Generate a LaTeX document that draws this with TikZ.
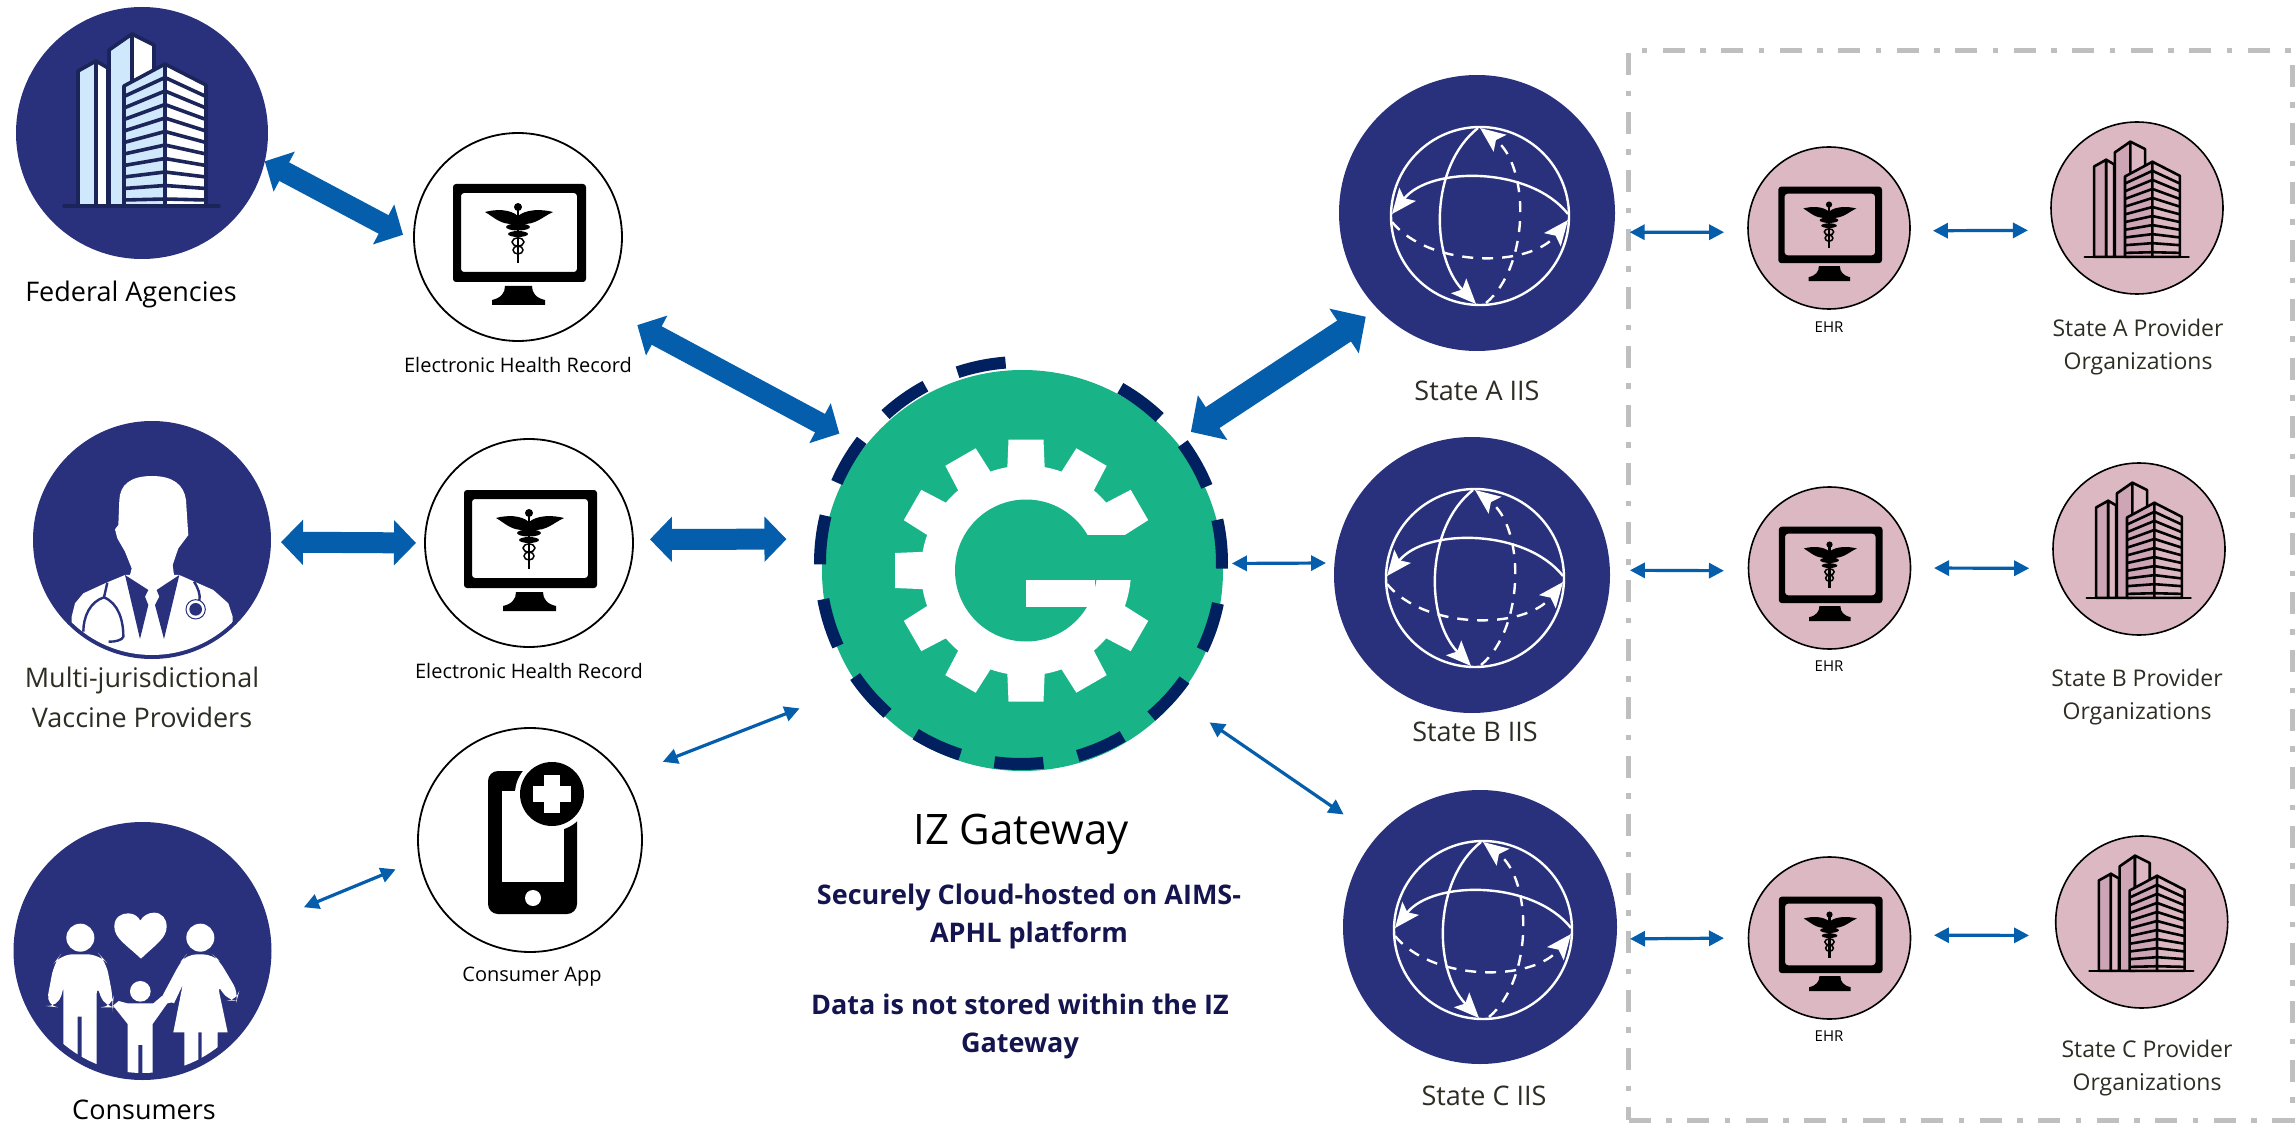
\documentclass[tikz,border=0pt]{standalone}
\usepackage{fontspec}
\setmainfont{Open Sans}
\usetikzlibrary{arrows.meta,calc,positioning}

\definecolor{navy}{HTML}{29317D}
\definecolor{gwgreen}{HTML}{19B388}
\definecolor{gwring}{HTML}{00205F}
\definecolor{flow}{HTML}{045EAB}
\definecolor{rose}{HTML}{DCB8C3}
\definecolor{rosedark}{HTML}{CDA5B4}
\definecolor{towerblue}{HTML}{CFE8FB}
\definecolor{towerline}{HTML}{1B2559}
\definecolor{boxgrey}{HTML}{BFBFBF}
\definecolor{textnavy}{HTML}{14144F}
\definecolor{textdark}{HTML}{2E2D24}

\tikzset{
  navydisc/.style={circle,fill=navy,inner sep=0pt,outer sep=0pt,minimum size=#1},
  whitedisc/.style={circle,draw=black,line width=1.8pt,fill=white,inner sep=0pt,outer sep=0pt,minimum size=#1},
  rosedisc/.style={circle,draw=black,line width=1.6pt,fill=rose,inner sep=0pt,outer sep=0pt,minimum size=#1},
  biglabel/.style={font=\fontsize{27}{40}\selectfont,align=center},
  midlabel/.style={font=\fontsize{27}{32}\selectfont,text=textdark,align=center},
  provlabel/.style={font=\fontsize{23}{33}\selectfont,text=textdark,align=center},
  smalllabel/.style={font=\fontsize{20}{24}\selectfont,align=center},
  tinylabel/.style={font=\fontsize{15}{18}\selectfont,align=center},
  hugelabel/.style={font=\fontsize{42}{48}\selectfont,align=center},
  noticelabel/.style={font=\fontsize{27}{38}\selectfont\bfseries,text=textnavy,align=center},
  fatflow/.style={{Triangle[length=22pt,width=44pt]}-{Triangle[length=22pt,width=44pt]},line width=21pt,flow},
  fatterflow/.style={{Triangle[length=26pt,width=52pt]}-{Triangle[length=26pt,width=52pt]},line width=25pt,flow},
  thinflow/.style={{Triangle[length=15pt,width=15pt]}-{Triangle[length=15pt,width=15pt]},line width=3.2pt,flow},
  pics/monitor/.style={code={
    \fill[even odd rule,rounded corners=3pt,black] (-65,-53) rectangle (68,45) (-57,-44) rectangle (59,35);
    \fill[black] (-13,49) -- (14,49) .. controls (14,56) and (18,61) .. (27,63) -- (27,68) -- (-26,68) -- (-26,63) .. controls (-17,61) and (-13,56) .. (-13,49) -- cycle;
    \fill[black] (0,-21) .. controls (-8,-28) and (-22,-28) .. (-33,-25) .. controls (-24,-20) and (-18,-12) .. (-3,-13) -- (3,-13) .. controls (18,-12) and (24,-20) .. (35,-25) .. controls (24,-28) and (8,-28) .. (0,-21) -- cycle;
    \fill[black] (0,-30) circle (4);
    \draw[black,line width=2.2pt] (0,-30) -- (0,26);
    \fill[black] (0,-10) ellipse (12 and 3.5);
    \fill[black] (0,-3) ellipse (10 and 3);
    \draw[black,line width=1.5pt] (0,5) ellipse (6 and 4);
    \draw[black,line width=1.5pt] (0,13) ellipse (5 and 4);
  }},
  pics/tower/.style n args={4}{code={
    \begin{scope}[line width=#4,draw=#3,line join=round]
    \filldraw[fill=#1] (-64,73) -- (-64,-62) -- (-46,-72) -- (-46,73) -- cycle;
    \filldraw[fill=#2] (-46,73) -- (-46,-72) -- (-34,-65) -- (-34,73) -- cycle;
    \filldraw[fill=#1] (-33,73) -- (-33,-83) -- (-10,-99) -- (-10,73) -- cycle;
    \filldraw[fill=#2] (-10,-99) -- (12,-88) -- (12,-40) -- (-10,-30) -- cycle;
    \filldraw[fill=#1] (-18,73) -- (-18,-47) -- (23,-69) -- (23,73) -- cycle;
    \filldraw[fill=#2] (23,73) -- (23,-69) -- (64,-48) -- (64,73) -- cycle;
    \foreach \i in {1,...,10} {
      \pgfmathsetmacro{\yc}{-69+13.5*\i}
      \pgfmathsetmacro{\yl}{\yc+21*(1-\i/10.5)}
      \draw (-18,\yl) -- (23,\yc) -- (64,\yl);
    }
    \draw[line cap=round] (-78,73) -- (77,73);
    \end{scope}
  }},
  pics/globe/.style={code={
    \begin{scope}[white,line width=2.4pt]
    \draw (0,0) circle (89);
    \draw[-{Stealth[length=25pt,width=21pt,inset=5pt]}] (-2,-88) .. controls (-50,-50) and (-50,40) .. (-4,88);
    \draw[-{Stealth[length=25pt,width=21pt,inset=5pt]}] (88,-2) .. controls (50,-50) and (-50,-50) .. (-88,-2);
    \draw[dash pattern=on 11pt off 9pt,-{Stealth[length=25pt,width=21pt,inset=5pt]}] (-88,6) .. controls (-50,52) and (50,52) .. (88,4);
    \draw[dash pattern=on 11pt off 9pt,-{Stealth[length=25pt,width=21pt,inset=5pt]}] (6,87) .. controls (50,50) and (50,-50) .. (0,-88);
    \end{scope}
  }},
  pics/gear/.style={code={
    \fill[white] (0,0) circle (105);
    \foreach \a in {30,60,...,330}
      \fill[white,rotate=\a] (95,-19) -- (131,-17.5) -- (131,17.5) -- (95,19) -- cycle;
    \fill[gwgreen] (0,0) circle (71);
    \fill[gwgreen] (0,-36) rectangle (150,9.3);
    \fill[white] (0,9.3) rectangle (69,36);
  }},
  pics/doctor/.style={code={
    \begin{scope}[scale=.3333,shift={(-336,-300)}]
    \begin{scope}
    \clip (336,300) circle (345);
    \fill[white] (95,700) -- (95,530) -- (105,490) -- (130,460) -- (195,430) -- (255,405) -- (418,405) -- (520,450) -- (565,490) -- (578,530) -- (578,700) -- cycle;
    \end{scope}
    \fill[white] (336,108) .. controls (270,108) and (240,135) .. (238,180) -- (235,255) -- (225,268) -- (232,295) -- (255,335) -- (275,385) -- (270,405) -- (336,455) -- (402,405) -- (398,375) -- (415,325) -- (445,285) -- (443,258) -- (438,180) .. controls (432,135) and (400,108) .. (336,108) -- cycle;
    \fill[navy] (255,405) -- (325,450) -- (315,470) -- (325,495) -- (300,597) -- cycle;
    \fill[navy] (418,405) -- (350,450) -- (358,470) -- (345,495) -- (372,597) -- cycle;
    \draw[navy,line width=2.4pt] (202,428) -- (192,472) .. controls (150,485) and (130,530) .. (130,575);
    \draw[navy,line width=2.4pt] (192,472) .. controls (235,490) and (250,540) .. (250,590) .. controls (248,600) and (225,606) .. (206,605);
    \draw[navy,line width=2.4pt] (462,425) .. controls (475,445) and (482,465) .. (478,482);
    \draw[navy,line width=1pt] (467,508) circle (29);
    \fill[navy] (467,508) circle (19);
    \end{scope}
  }},
  pics/family/.style={code={
    \begin{scope}[scale=.3333,shift={(-337.5,-153)}]
    \fill[white] (333,176) .. controls (290,135) and (253,115) .. (253,80) .. controls (253,50) and (275,40) .. (295,40) .. controls (312,40) and (325,50) .. (331,62) .. controls (338,48) and (355,38) .. (372,38) .. controls (395,38) and (410,55) .. (410,80) .. controls (410,115) and (375,135) .. (333,176) -- cycle;
    \fill[white] (151,113) circle (42) (511,113) circle (42) (331,274) circle (31);
    \begin{scope}
    \clip (337.5,153) circle (366);
    \fill[white,rounded corners=12pt] (92,163) -- (208,163) -- (228,185) -- (250,300) -- (248,322) -- (222,322) -- (200,250) -- (200,600) -- (155,600) [sharp corners] -- (155,350) -- (143,350) -- (143,600) -- (100,600) -- (100,265) [rounded corners=12pt] -- (84,322) -- (48,318) -- (72,190) -- cycle;
    \fill[white,rounded corners=10pt] (470,163) -- (548,163) -- (568,182) -- (626,280) -- (620,302) -- (592,302) -- (562,250) [sharp corners] -- (593,397) -- (563,397) -- (563,600) -- (515,600) -- (515,397) -- (505,397) -- (505,600) -- (463,600) -- (463,397) -- (430,397) -- (458,255) -- (432,310) -- (396,290) [rounded corners=10pt] -- (452,185) -- cycle;
    \fill[white] (248,318) -- (266,303) -- (292,310) -- (370,310) -- (396,288) -- (432,306) -- (412,310) -- (368,372) -- (368,600) -- (337,600) -- (337,435) -- (325,435) -- (325,600) -- (293,600) -- (293,372) -- (250,318) -- cycle;
    \end{scope}
    \end{scope}
  }},
  pics/phone/.style={code={
    \fill[even odd rule,black,rounded corners=10pt] (-42,-69) rectangle (47,74);
    \fill[white] (-28,-49) rectangle (34,42);
    \fill[white] (22,-46) circle (37);
    \fill[black] (22,-46) circle (32);
    \fill[white] (14,-65) rectangle (30,-27);
    \fill[white] (3,-54) rectangle (41,-38);
    \fill[white] (3,58) circle (8);
  }},
}

\begin{document}
\begin{tikzpicture}[x=1pt,y=-1pt]
\useasboundingbox (0,0) rectangle (2295,1123);

\node [draw=boxgrey,line width=5pt,dash pattern=on 22pt off 15.5pt on 5.5pt off 15.5pt,minimum width=663.5pt,minimum height=1069pt,inner sep=0pt,outer sep=0pt] (stateBox) at (1960.25,585.5) {};

% left column
\node [navydisc=252pt] (fed) at (142,133) {};
\node [navydisc=238pt] (prov) at (152,540) {};
\node [navydisc=258pt] (cons) at (142.5,951) {};
\pic at (fed) {tower={towerblue}{white}{towerline}{3.6pt}};
\pic at (prov) {doctor};
\pic at (cons) {family};
\node [biglabel] (fedText) at (131,294.5) {Federal Agencies};
\node [biglabel,text=textdark] (provText) at (142,697) {Multi-jurisdictional\\Vaccine Providers};
\node [biglabel] (consText) at (144,1110) {Consumers};

\node [whitedisc=208pt] (ehrFed) at (518,237) {};
\node [whitedisc=208pt] (ehrProv) at (529,543) {};
\node [whitedisc=224pt] (app) at (530,840) {};
\pic at (ehrFed) {monitor};
\pic at (ehrProv) {monitor};
\pic at (app) {phone};
\node [smalllabel] (ehrFedText) at (518,365) {Electronic Health Record};
\node [smalllabel] (ehrProvText) at (529,671) {Electronic Health Record};
\node [smalllabel] (appText) at (532,977) {Consumer App};

% gateway
\node [circle,fill=gwgreen,inner sep=0pt,outer sep=0pt,minimum size=401pt] (gw) at (1022.5,570.5) {};
\coordinate (gwRing) at (1021,563);
\foreach \a in {94.4,118.4,...,430}
  \draw[gwring,line width=12pt] ([shift={(-\a:201)}]gwRing) arc [start angle=-\a,end angle=-\a-14,radius=201];
\pic at (1026,570.5) {gear};
\node [hugelabel] (gwText) at (1021,834) {IZ Gateway};
\node [noticelabel] (cloudText) at (1029,916) {Securely Cloud-hosted on AIMS-\\APHL platform};
\node [noticelabel] (dataText) at (1020,1026) {Data is not stored within the IZ\\Gateway};

% state IIS
\node [navydisc=276pt] (iisA) at (1477,213) {};
\node [navydisc=276pt] (iisB) at (1472,575) {};
\node [navydisc=274pt] (iisC) at (1480,927) {};
\pic at (1480,216) {globe};
\pic at (1475,578) {globe};
\pic at (1483,930) {globe};
\node [midlabel] (iisAText) at (1477,391) {State A IIS};
\node [midlabel] (iisBText) at (1475,732) {State B IIS};
\node [midlabel] (iisCText) at (1484,1096) {State C IIS};

% state EHR
\node [rosedisc=162pt] (ehrA) at (1829,228) {};
\node [rosedisc=162pt] (ehrB) at (1829.5,568) {};
\node [rosedisc=162pt] (ehrC) at (1829.5,938) {};
\pic [scale=.78] at (ehrA) {monitor};
\pic [scale=.78] at (ehrB) {monitor};
\pic [scale=.78] at (ehrC) {monitor};
\node [tinylabel] (ehrAText) at (1829,327) {EHR};
\node [tinylabel] (ehrBText) at (1829,666) {EHR};
\node [tinylabel] (ehrCText) at (1829,1036) {EHR};

% state providers
\node [rosedisc=172pt] (orgA) at (2137,208) {};
\node [rosedisc=172pt] (orgB) at (2139,549) {};
\node [rosedisc=172pt] (orgC) at (2141.7,922) {};
\pic [scale=.67] at (orgA) {tower={rosedark}{rose}{black}{2.6pt}};
\pic [scale=.67] at (orgB) {tower={rosedark}{rose}{black}{2.6pt}};
\pic [scale=.67] at (orgC) {tower={rosedark}{rose}{black}{2.6pt}};
\node [provlabel] (orgAText) at (2138,347.5) {State A Provider\\Organizations};
\node [provlabel] (orgBText) at (2137,697.5) {State B Provider\\Organizations};
\node [provlabel] (orgCText) at (2147,1068.5) {State C Provider\\Organizations};

% connectors
\draw [fatflow,shorten >=12.5pt] (fed.-13) -- (ehrFed.182);
\draw [fatflow,shorten <=45pt,shorten >=28.5pt] (ehrFed.-40) -- (gw.142);
\draw [fatflow,shorten <=10pt,shorten >=9pt] (prov.-1) -- (ehrProv.180);
\draw [fatflow,shorten <=17pt,shorten >=38pt] (ehrProv.2) -- (gw.171);
\draw [fatterflow,shorten <=17.7pt,shorten >=14.3pt] (gw.40) -- (iisA.224);
\draw [thinflow,shorten <=42.8pt,shorten >=63pt] (app.34) -- (gw.215);
\draw [thinflow,shorten <=38.6pt,shorten >=26pt] (cons.13) -- (app.190);
\draw [thinflow,shorten <=9pt,shorten >=8.5pt] (gw.2) -- (iisB.175);
\draw [thinflow,shorten <=40.6pt,shorten >=40pt] (gw.-40) -- (iisC.139);

\draw [thinflow,shorten <=16pt,shorten >=24pt] (iisA.-8) -- (ehrA.183);
\draw [thinflow,shorten <=23pt,shorten >=26pt] (ehrA.-2) -- (orgA.195.5);
\draw [thinflow,shorten <=20pt,shorten >=24.6pt] (iisB.2) -- (ehrB.182);
\draw [thinflow,shorten <=23.5pt,shorten >=26pt] (ehrB.0) -- (orgB.193);
\draw [thinflow,shorten <=13.5pt,shorten >=24.5pt] (iisC.-5) -- (ehrC.180);
\draw [thinflow,shorten <=23.5pt,shorten >=27.7pt] (ehrC.2) -- (orgC.189);

\end{tikzpicture}
\end{document}
